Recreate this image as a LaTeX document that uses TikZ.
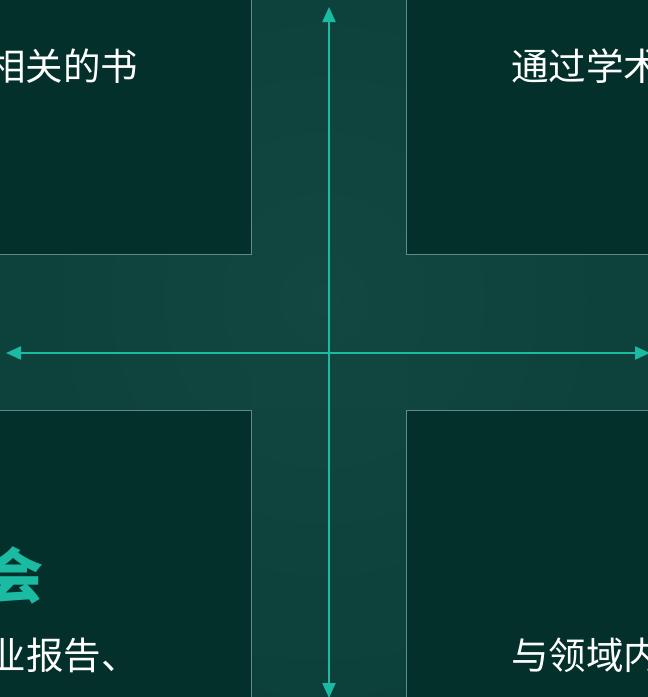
\documentclass[tikz,border=0pt]{standalone}
\usepackage{fontspec}
\newfontfamily\cjk{Noto Sans CJK SC}
\usetikzlibrary{arrows.meta}
\definecolor{bgmid}{HTML}{124742}
\definecolor{bgedge}{HTML}{053730}
\definecolor{boxfill}{HTML}{03302A}
\definecolor{boxline}{HTML}{5E8C84}
\definecolor{teal}{HTML}{1ABBA2}
\tikzset{
  quad/.style={fill=boxfill,draw=boxline,line width=0.8pt},
  axis2/.style={draw=teal,line width=2pt,{Triangle[length=15pt,width=13pt]}-{Triangle[length=15pt,width=13pt]}},
  bodytext/.style={font=\cjk\fontsize{37.5}{42}\selectfont,text=white,inner sep=0pt},
  headtext/.style={font=\cjk\bfseries\fontsize{60}{66}\selectfont,text=teal,inner sep=0pt}
}
\begin{document}
\begin{tikzpicture}[x=1pt,y=-1pt]
\useasboundingbox (0,0) rectangle (648,697);
\clip (0,0) rectangle (648,697);
\shade[inner color=bgmid,outer color=bgedge] (-200,-250) rectangle (848,850);
\fill[bgmid,opacity=0.4] (251,-10) rectangle (406,710);
\fill[bgmid,opacity=0.4] (-10,254) rectangle (660,410);
\draw[quad] (-20,-20) rectangle (251,254);
\draw[quad] (406,-20) rectangle (670,254);
\draw[quad] (-20,410) rectangle (251,720);
\draw[quad] (406,410) rectangle (670,720);
\coordinate (L) at (6,353);
\coordinate (R) at (650,353);
\coordinate (T) at (329,7);
\coordinate (B) at (329,698);
\draw[axis2] (L) -- (R);
\draw[axis2] (T) -- (B);
\node[bodytext,anchor=base west] (tl) at (-12,80) {相关的书};
\node[bodytext,anchor=base west] (tr) at (511,80) {通过学术};
\node[headtext,anchor=base east] (bh) at (44,598) {研讨会};
\node[bodytext,anchor=base west] (bl) at (-49,669) {行业报告、};
\node[bodytext,anchor=base west] (br) at (511,669) {与领域内};
\end{tikzpicture}
\end{document}
